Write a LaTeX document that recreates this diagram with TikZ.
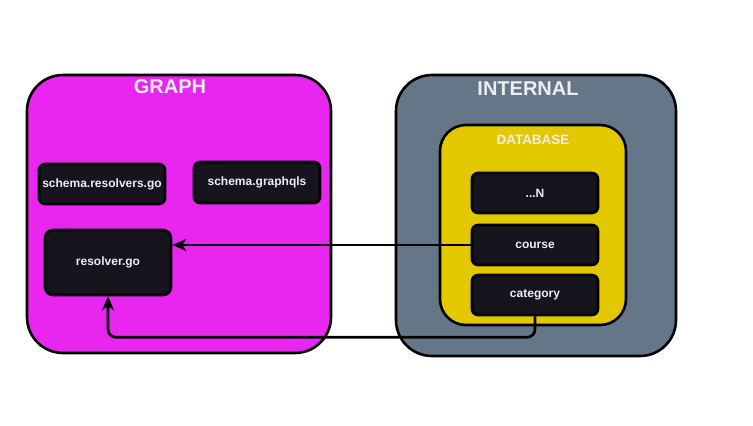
\documentclass[tikz,border=0pt]{standalone}
\usepackage{fontspec}
\setmainfont{Liberation Sans}
\usetikzlibrary{arrows.meta,calc}
\definecolor{magentabg}{HTML}{E826F0}
\definecolor{slatebg}{HTML}{647687}
\definecolor{goldbg}{HTML}{E3C800}
\definecolor{nodebg}{HTML}{18141D}
\definecolor{lighttxt}{HTML}{EEEEF2}
\tikzset{
  container/.style={draw=black, line width=2.6pt, rounded corners=36pt},
  filebox/.style={draw=black, fill=nodebg, line width=2.6pt, rounded corners=6pt,
    text=lighttxt, font=\bfseries\fontsize{12}{14}\selectfont},
  title/.style={text=lighttxt, font=\bfseries\fontsize{20}{24}\selectfont},
  conn/.style={line width=2.7pt, -{Stealth[length=14pt,width=12pt,inset=4pt]}, rounded corners=8pt}
}
\begin{document}
\begin{tikzpicture}[x=1pt,y=-1pt]
\useasboundingbox (0,0) rectangle (753,426);
% containers
\draw[container, fill=magentabg] (27,75) rectangle (331,353);
\node[title] (graphT) at (170,87) {GRAPH};
\draw[container, fill=slatebg] (396,75) rectangle (676,356);
\node[title] (internalT) at (528,89) {INTERNAL};
\draw[container, fill=goldbg, rounded corners=26pt] (440,125) rectangle (626,325);
\node[text=lighttxt, font=\bfseries\fontsize{13.5}{15}\selectfont] (dbT) at (533,140) {DATABASE};
% nodes
\node[filebox, minimum width=126pt, minimum height=40pt] (sres) at (102,184) {schema.resolvers.go};
\node[filebox, minimum width=126pt, minimum height=41pt] (sgql) at (257,182.5) {schema.graphqls};
\node[filebox, minimum width=126pt, minimum height=65pt, rounded corners=8pt] (res) at (108,262.5) {resolver.go};
\node[filebox, minimum width=126pt, minimum height=40pt] (nN) at (535,193) {...N};
\node[filebox, minimum width=126pt, minimum height=40pt] (course) at (535,245) {course};
\node[filebox, minimum width=126pt, minimum height=40pt] (cat) at (535,295) {category};
% connectors
\draw[conn] (course.west) -- (res.east |- course.west);
\draw[conn] (cat.south) -- ($(cat.south)+(0,21)$) -| (res.south);
\end{tikzpicture}
\end{document}
